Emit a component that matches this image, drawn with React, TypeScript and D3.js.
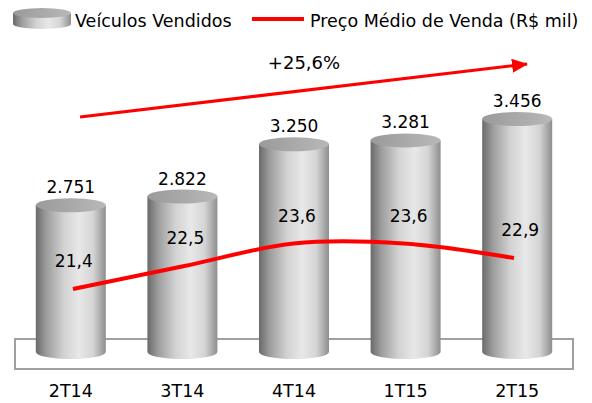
import React from 'react';
import * as d3 from 'd3';

const categories = ['2T14', '3T14', '4T14', '1T15', '2T15'];
const vehicles = [2751, 2822, 3250, 3281, 3456];
const prices = [21.4, 22.5, 23.6, 23.6, 22.9];
const growthLabel = '+25,6%';
const legendBars = 'Veículos Vendidos';
const legendLine = 'Preço Médio de Venda (R$ mil)';

const W = 592;
const H = 403;
const FONT = '"DejaVu Sans", Verdana, sans-serif';

const br = d3.formatLocale({ decimal: ',', thousands: '.', grouping: [3], currency: ['R$', ''] });
const fmtInt = br.format(',d');
const fmtDec = br.format('.1f');

export default function App() {
  const x = d3.scaleBand<string>().domain(categories).range([15, 573]).padding(0);
  const y = d3.scaleLinear().domain([1550, 3456]).range([352, 119]);
  const xl = d3.scalePoint<string>().domain(categories).range([73, 514]);
  const yl = d3.scaleLinear().domain([20, 24]).range([318, 235.3]);

  const barW = 70;
  const rx = barW / 2;
  const ry = 7;
  const base = y(1550);

  const line = d3
    .line<number>()
    .x((_, i) => xl(categories[i]) as number)
    .y(d => yl(d))
    .curve(d3.curveCardinal.tension(0));

  const cylinder = (cx: number, top: number, bottom: number, w: number, ery: number) => {
    const r = w / 2;
    return `M${cx - r},${top} L${cx - r},${bottom} A${r},${ery} 0 0 0 ${cx + r},${bottom} L${cx + r},${top} Z`;
  };

  return (
    <div style={{ position: 'absolute', left: 0, top: 0 }}>
      <svg width={W} height={H} style={{ display: 'block', background: '#fff' }}>
        <defs>
          <linearGradient id="body" x1="0" x2="1" y1="0" y2="0">
            <stop offset="0%" stopColor="#6a6a6a" />
            <stop offset="15%" stopColor="#9c9c9c" />
            <stop offset="40%" stopColor="#d2d2d2" />
            <stop offset="62%" stopColor="#e8e8e8" />
            <stop offset="82%" stopColor="#d4d4d4" />
            <stop offset="100%" stopColor="#8e8e8e" />
          </linearGradient>
          <linearGradient id="cap" x1="0" x2="1" y1="0" y2="0">
            <stop offset="0%" stopColor="#9a9a9a" />
            <stop offset="100%" stopColor="#b8b8b8" />
          </linearGradient>
          <marker id="head" markerUnits="userSpaceOnUse" markerWidth="16" markerHeight="14"
            refX="15" refY="7" orient="auto" viewBox="0 0 16 14">
            <path d="M0,0 L16,7 L0,14 Z" fill="#ff0000" />
          </marker>
        </defs>

        {/* legend */}
        <g>
          <path d={cylinder(42, 13, 24, 58, 5)} fill="url(#body)" />
          <ellipse cx={42} cy={13} rx={29} ry={5} fill="url(#cap)" />
          <text x={75} y={27} fontFamily={FONT} fontSize={17.5} fill="#000">{legendBars}</text>
          <line x1={252} x2={304} y1={19} y2={19} stroke="#ff0000" strokeWidth={4} />
          <text x={310} y={27} fontFamily={FONT} fontSize={17.5} fill="#000">{legendLine}</text>
        </g>

        {/* growth arrow */}
        <line x1={80} y1={117} x2={527} y2={64} stroke="#ff0000" strokeWidth={3} markerEnd="url(#head)" />
        <text x={304} y={69} textAnchor="middle" fontFamily={FONT} fontSize={18} fill="#000">{growthLabel}</text>

        {/* floor */}
        <rect x={15} y={339} width={558} height={30} fill="none" stroke="#a0a0a0" strokeWidth={2} />

        {/* cylinders */}
        {vehicles.map((v, i) => {
          const cx = (x(categories[i]) as number) + x.bandwidth() / 2;
          const top = y(v);
          return (
            <g key={categories[i]}>
              <path d={cylinder(cx, top, base, barW, ry)} fill="url(#body)" />
              <ellipse cx={cx} cy={top} rx={rx} ry={ry} fill="url(#cap)" />
              <text x={cx} y={top - ry - 5} textAnchor="middle" fontFamily={FONT} fontSize={17} fill="#000">
                {fmtInt(v)}
              </text>
            </g>
          );
        })}

        {/* price line */}
        <path d={line(prices) || ''} fill="none" stroke="#ff0000" strokeWidth={4} />
        {prices.map((p, i) => {
          const cx = (x(categories[i]) as number) + x.bandwidth() / 2;
          return (
            <text key={'p' + i} x={cx + 3} y={yl(p) - 22} textAnchor="middle" fontFamily={FONT} fontSize={17} fill="#000">
              {fmtDec(p)}
            </text>
          );
        })}

        {/* category labels */}
        {categories.map(c => (
          <text key={c} x={(x(c) as number) + x.bandwidth() / 2} y={397} textAnchor="middle"
            fontFamily={FONT} fontSize={17.5} fill="#000">
            {c}
          </text>
        ))}
      </svg>
    </div>
  );
}
